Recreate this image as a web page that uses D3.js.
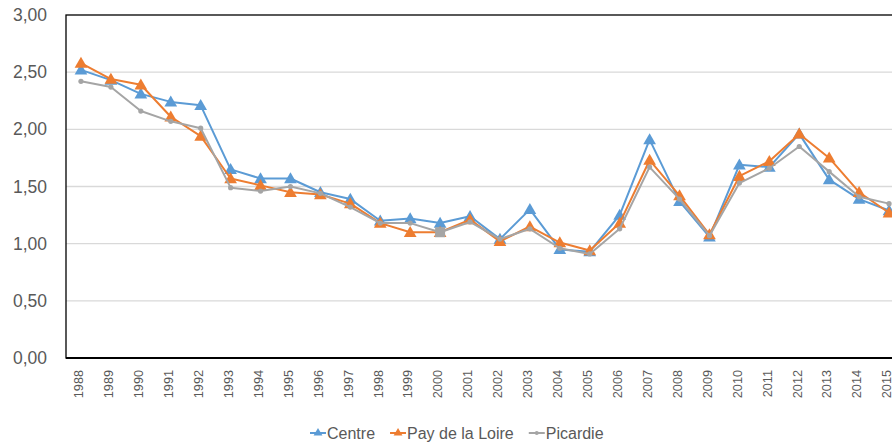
<!DOCTYPE html>
<html>
<head>
<meta charset="utf-8">
<script src="https://cdnjs.cloudflare.com/ajax/libs/d3/7.8.5/d3.min.js"></script>
<style>
  html, body { margin: 0; padding: 0; background: #fff; }
  svg { display: block; font-family: "Liberation Sans", Arial, sans-serif; }
</style>
</head>
<body>
<svg id="chart" width="892" height="446"></svg>
<script>
const years = [1988,1989,1990,1991,1992,1993,1994,1995,1996,1997,1998,1999,2000,2001,2002,2003,2004,2005,2006,2007,2008,2009,2010,2011,2012,2013,2014,2015];
const centre = [2.52,2.43,2.31,2.24,2.21,1.65,1.57,1.57,1.45,1.39,1.20,1.22,1.18,1.24,1.04,1.30,0.95,0.93,1.25,1.91,1.37,1.06,1.69,1.67,1.96,1.56,1.39,1.29];
const payDeLaLoire = [2.58,2.44,2.39,2.11,1.94,1.57,1.51,1.45,1.43,1.35,1.18,1.10,1.10,1.21,1.02,1.15,1.01,0.94,1.18,1.73,1.42,1.08,1.59,1.72,1.96,1.75,1.45,1.27];
const picardie = [2.42,2.37,2.16,2.07,2.01,1.49,1.46,1.50,1.44,1.32,1.18,1.18,1.10,1.19,1.04,1.13,0.96,0.91,1.13,1.67,1.39,1.07,1.53,1.66,1.85,1.63,1.41,1.35];
const seriesNames = ["Centre", "Pay de la Loire", "Picardie"];
const yTicks = [0, 0.5, 1, 1.5, 2, 2.5, 3];

(function () {
const series = [
  {name: seriesNames[0], values: centre, color: "#5B9BD5", marker: "triangle"},
  {name: seriesNames[1], values: payDeLaLoire, color: "#ED7D31", marker: "triangle"},
  {name: seriesNames[2], values: picardie, color: "#A5A5A5", marker: "dot"}
];

const svg = d3.select("#chart");
const pL = 66, pR = 904, pT = 15, pB = 358;

const x = d3.scalePoint().domain(years).range([pL, pR]).padding(0.5);
const y = d3.scaleLinear().domain([0, 3]).range([pB, pT]);

// gridlines
svg.append("g").selectAll("line").data(yTicks.filter(t => t > 0 && t < 3)).join("line")
  .attr("x1", pL).attr("x2", pR)
  .attr("y1", d => y(d)).attr("y2", d => y(d))
  .attr("stroke", "#D9D9D9").attr("stroke-width", 1.3);

// plot border
svg.append("rect").attr("x", pL).attr("y", pT)
  .attr("width", pR - pL).attr("height", pB - pT)
  .attr("fill", "none").attr("stroke", "#000").attr("stroke-width", 1.3);
svg.append("line").attr("x1", pL).attr("x2", pR).attr("y1", pB).attr("y2", pB)
  .attr("stroke", "#000").attr("stroke-width", 2);

// y axis labels
const fmt = d3.format(".2f");
svg.append("g").selectAll("text").data(yTicks).join("text")
  .attr("x", 47).attr("y", d => y(d)).attr("dy", "0.35em")
  .attr("text-anchor", "end").attr("font-size", 17.5).attr("fill", "#595959")
  .text(d => fmt(d).replace(".", ","));

// x axis labels
svg.append("g").selectAll("text").data(years).join("text")
  .attr("transform", d => `translate(${x(d) + 2.3},370) rotate(-90)`)
  .attr("text-anchor", "end").attr("font-size", 12.7).attr("fill", "#595959")
  .text(d => d);

const tri = d3.symbol().type(d3.symbolTriangle).size(70);
const triSmall = d3.symbol().type(d3.symbolTriangle).size(34);

const line = d3.line().x((d, i) => x(years[i])).y(d => y(d));

series.forEach(s => {
  const g = svg.append("g");
  g.append("path").datum(s.values).attr("d", line)
    .attr("fill", "none").attr("stroke", s.color).attr("stroke-width", 2).attr("stroke-linejoin", "round");
  if (s.marker === "triangle") {
    g.selectAll("path.m").data(s.values).join("path").attr("class", "m")
      .attr("d", tri)
      .attr("transform", (d, i) => `translate(${x(years[i])},${y(d) + 1})`)
      .attr("fill", s.color);
  } else {
    g.selectAll("circle").data(s.values).join("circle")
      .attr("cx", (d, i) => x(years[i])).attr("cy", d => y(d))
      .attr("r", (d, i) => years[i] === 2000 ? 0 : 2.6)
      .attr("fill", s.color);
    g.selectAll("rect").data(s.values.filter((d, i) => years[i] === 2000)).join("rect")
      .attr("x", x(2000) - 5).attr("y", d => y(d) - 5)
      .attr("width", 10).attr("height", 10).attr("fill", s.color);
  }
});

// legend
const legend = svg.append("g");
let lx = 310;
const ly = 433;
series.forEach(s => {
  legend.append("line").attr("x1", lx).attr("x2", lx + 16).attr("y1", ly).attr("y2", ly)
    .attr("stroke", s.color).attr("stroke-width", 2);
  if (s.marker === "triangle") {
    legend.append("path").attr("d", triSmall).attr("transform", `translate(${lx + 8},${ly})`).attr("fill", s.color);
  } else {
    legend.append("circle").attr("cx", lx + 8).attr("cy", ly).attr("r", 2).attr("fill", s.color);
  }
  const t = legend.append("text").attr("x", lx + 17).attr("y", 438.5)
    .attr("font-size", 16).attr("fill", "#595959").text(s.name);
  lx = lx + 17 + t.node().getComputedTextLength() + 15;
});
})();
</script>
</body>
</html>
